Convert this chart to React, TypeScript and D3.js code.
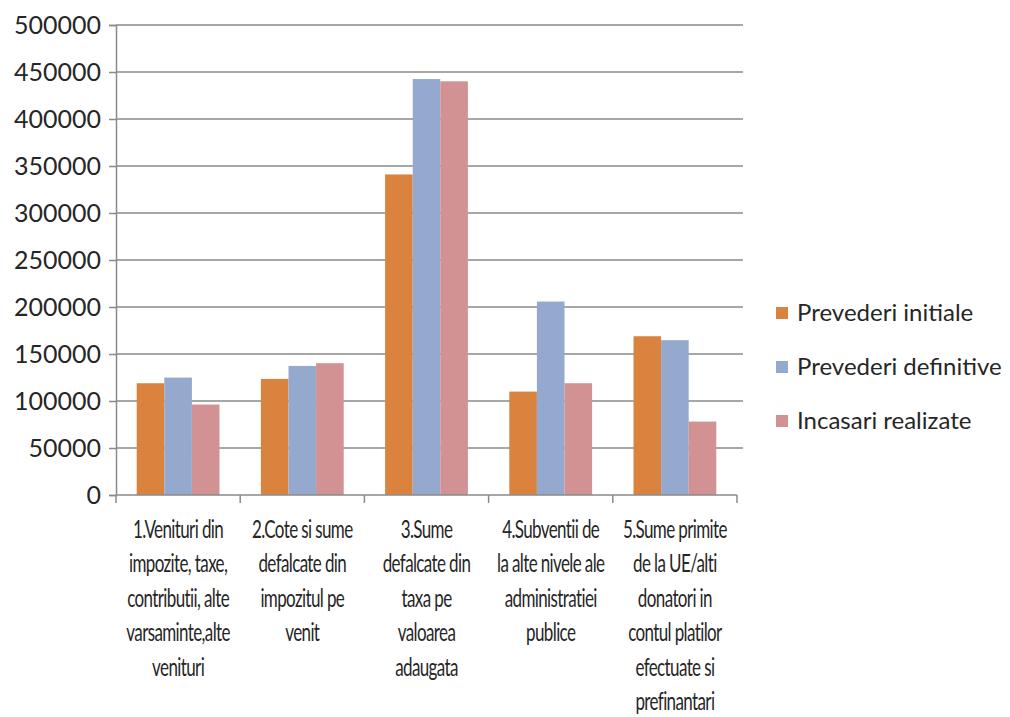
import React, { useEffect, useRef } from "react";
import * as d3 from "d3";

const categories = [
  ["1.Venituri din", "impozite, taxe,", "contributii, alte", "varsaminte,alte", "venituri"],
  ["2.Cote si sume", "defalcate din", "impozitul pe", "venit"],
  ["3.Sume", "defalcate din", "taxa pe", "valoarea", "adaugata"],
  ["4.Subventii de", "la alte nivele ale", "administratiei", "publice"],
  ["5.Sume primite", "de la UE/alti", "donatori in", "contul platilor", "efectuate si", "prefinantari"],
];
const seriesNames = ["Prevederi initiale", "Prevederi definitive", "Incasari realizate"];
const prevederiInitiale = [118900, 123500, 341000, 110000, 168900];
const prevederiDefinitive = [124900, 137300, 442500, 205800, 164700];
const incasariRealizate = [96200, 140200, 440100, 118900, 78100];
const yTicks = [0, 50000, 100000, 150000, 200000, 250000, 300000, 350000, 400000, 450000, 500000];
const colors = ["#DA833F", "#95A9CF", "#D29192"];

const W = 1010;
const H = 717;
const font = "Lato, 'Open Sans', sans-serif";

const App = () => {
  const ref = useRef<SVGSVGElement>(null);

  useEffect(() => {
    if (!ref.current) return;
    const svg = d3.select(ref.current);
    svg.selectAll("*").remove();

    const left = 116, right = 737, top = 25, bottom = 495;
    const series = [prevederiInitiale, prevederiDefinitive, incasariRealizate];
    const idx = categories.map((_, i) => String(i));

    const x = d3.scaleBand().domain(idx).range([left, right]).paddingInner(0).paddingOuter(0);
    // excel gap width 150%: bars take 3/(3+1.5) of each band
    const inner = d3.scaleBand().domain(["0", "1", "2"]).range([0, x.bandwidth()]).paddingOuter(0.75).paddingInner(0);
    const y = d3.scaleLinear().domain([0, 500000]).range([bottom, top]);

    // gridlines
    svg.append("g")
      .selectAll("line")
      .data(yTicks.slice(1))
      .enter()
      .append("line")
      .attr("x1", left)
      .attr("x2", right + 6)
      .attr("y1", (d) => y(d))
      .attr("y2", (d) => y(d))
      .attr("stroke", "#8a8a8a")
      .attr("stroke-width", 1.5);

    // bars
    series.forEach((vals, s) => {
      svg.append("g")
        .selectAll("rect")
        .data(vals)
        .enter()
        .append("rect")
        .attr("x", (_, i) => x(String(i))! + inner(String(s))!)
        .attr("y", (d) => y(d))
        .attr("width", inner.bandwidth())
        .attr("height", (d) => bottom - y(d))
        .attr("fill", colors[s]);
    });

    // y axis
    const yAxis = d3.axisLeft(y).tickValues(yTicks).tickSize(7).tickPadding(8).tickFormat((d) => String(d));
    const ya = svg.append("g").attr("transform", `translate(${left},0)`).call(yAxis);
    ya.select(".domain").attr("stroke", "#8a8a8a").attr("stroke-width", 1.5);
    ya.selectAll(".tick line").attr("stroke", "#8a8a8a").attr("stroke-width", 1.5);
    ya.selectAll(".tick text")
      .attr("font-family", font)
      .attr("font-size", 25)
      .attr("fill", "#262626");

    // x axis
    const xa = svg.append("g").attr("transform", `translate(0,${bottom})`);
    xa.append("line")
      .attr("x1", left)
      .attr("x2", right)
      .attr("stroke", "#8a8a8a")
      .attr("stroke-width", 1.5);
    xa.selectAll(".xt")
      .data(d3.range(categories.length + 1))
      .enter()
      .append("line")
      .attr("x1", (i) => left + i * x.bandwidth())
      .attr("x2", (i) => left + i * x.bandwidth())
      .attr("y1", 0)
      .attr("y2", 8)
      .attr("stroke", "#8a8a8a")
      .attr("stroke-width", 1.5);

    categories.forEach((lines, i) => {
      const cx = x(String(i))! + x.bandwidth() / 2;
      const g = svg.append("g").attr("transform", `translate(${cx},0) scale(0.68,1)`);
      g.selectAll("text")
        .data(lines)
        .enter()
        .append("text")
        .attr("x", 0)
        .attr("y", (_, j) => 538 + j * 34.5)
        .attr("text-anchor", "middle")
        .attr("font-family", font)
        .attr("font-size", 25)
        .attr("letter-spacing", -0.9)
        .attr("fill", "#262626")
        .text((d) => d);
    });

    // legend
    const lg = svg.append("g");
    seriesNames.forEach((name, s) => {
      const cy = 313 + s * 54;
      lg.append("rect")
        .attr("x", 776)
        .attr("y", cy - 6)
        .attr("width", 12)
        .attr("height", 12)
        .attr("fill", colors[s]);
      lg.append("text")
        .attr("x", 797)
        .attr("y", cy + 8)
        .attr("font-family", font)
        .attr("font-size", 24)
        .attr("fill", "#262626")
        .text(name);
    });
  }, []);

  return (
    <svg
      ref={ref}
      width={W}
      height={H}
      style={{ position: "absolute", left: 0, top: 0, background: "#fff" }}
    />
  );
};

export default App;
